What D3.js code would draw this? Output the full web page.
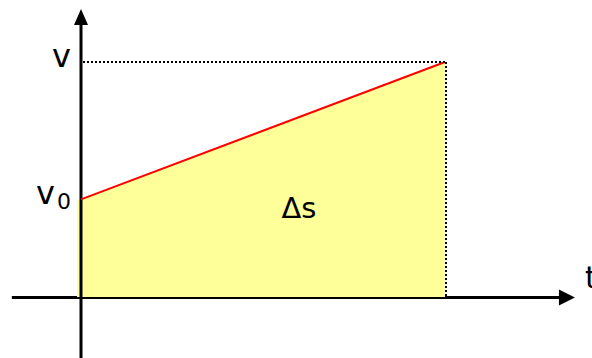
<!DOCTYPE html>
<html lang="en">
<head>
  <meta charset="UTF-8">
  <title>Velocity - time</title>
  <script src="https://d3js.org/d3.v7.min.js"></script>
  <style>
    body { margin: 0; background: #fff; }
    text { font-family: "DejaVu Sans", Verdana, sans-serif; fill: #000; }
  </style>
</head>
<body>
  <svg id="chart" width="592" height="358"></svg>
  <script>
    // motion with constant acceleration: v grows linearly from v0 to v
    const times = [0, 10];
    const speeds = [1, 2.4];
    const axisT = [-1.9, 13.57];
    const axisV = [-0.63, 2.94];
    const speedLabels = ["v", "v0"];
    const areaLabel = "\u0394s";
    const timeLabel = "t";

    const svg = d3.select("#chart");

    const x = d3.scaleLinear().domain([0, 10]).range([81, 445]);
    const y = d3.scaleLinear().domain([0, 2.4]).range([297.5, 62]);

    const pts = times.map((t, i) => ({ t: t, v: speeds[i] }));

    // x axis (under the fill)
    svg.append("line")
      .attr("x1", x(axisT[0])).attr("x2", x(axisT[1]) - 14)
      .attr("y1", y(0)).attr("y2", y(0))
      .attr("stroke", "#000").attr("stroke-width", 3);
    svg.append("path")
      .attr("d", d3.line()([[x(axisT[1]) - 16, y(0) - 8], [x(axisT[1]), y(0)], [x(axisT[1]) - 16, y(0) + 8]]) + "Z")
      .attr("fill", "#000");

    // area under the line
    const area = d3.area()
      .x(d => x(d.t))
      .y0(y(0) - 0.5)
      .y1(d => y(d.v));
    svg.append("path")
      .datum([{ t: times[0] - 0.11, v: speeds[0] }].concat(pts))
      .attr("d", area)
      .attr("fill", "#ffff99");

    // y axis
    svg.append("line")
      .attr("x1", x(0)).attr("x2", x(0))
      .attr("y1", y(axisV[0])).attr("y2", y(axisV[1]) + 14)
      .attr("stroke", "#000").attr("stroke-width", 3);
    svg.append("path")
      .attr("d", d3.line()([[x(0) - 7, y(axisV[1]) + 16], [x(0), y(axisV[1])], [x(0) + 7, y(axisV[1]) + 16]]) + "Z")
      .attr("fill", "#000");

    // v(t)
    svg.append("path")
      .datum(pts)
      .attr("d", d3.line().x(d => x(d.t)).y(d => y(d.v)))
      .attr("fill", "none")
      .attr("stroke", "#ff0000")
      .attr("stroke-width", 2);

    // dotted guides to the end point
    const last = pts[pts.length - 1];
    svg.append("line")
      .attr("x1", x(0) + 2).attr("x2", x(last.t))
      .attr("y1", y(last.v)).attr("y2", y(last.v))
      .attr("stroke", "#000").attr("stroke-width", 2)
      .attr("stroke-dasharray", "2,2");
    svg.append("line")
      .attr("x1", x(last.t) + 1).attr("x2", x(last.t) + 1)
      .attr("y1", y(last.v)).attr("y2", y(0) - 1)
      .attr("stroke", "#000").attr("stroke-width", 2)
      .attr("stroke-dasharray", "2,2");

    // labels
    svg.append("text")
      .attr("x", 52).attr("y", y(speeds[1]) + 5)
      .style("font-size", "32px")
      .text(speedLabels[0]);

    const v0 = svg.append("text")
      .attr("x", 36).attr("y", y(speeds[0]) + 5)
      .style("font-size", "32px");
    v0.append("tspan").text(speedLabels[1][0]);
    v0.append("tspan").attr("dy", 5).attr("dx", 2).style("font-size", "22px").text(speedLabels[1].slice(1));

    svg.append("text")
      .attr("x", 299).attr("y", 218)
      .attr("text-anchor", "middle")
      .style("font-size", "29px")
      .text(areaLabel);

    svg.append("text")
      .attr("x", 585).attr("y", 288)
      .style("font-size", "30px")
      .text(timeLabel);
  </script>
</body>
</html>
